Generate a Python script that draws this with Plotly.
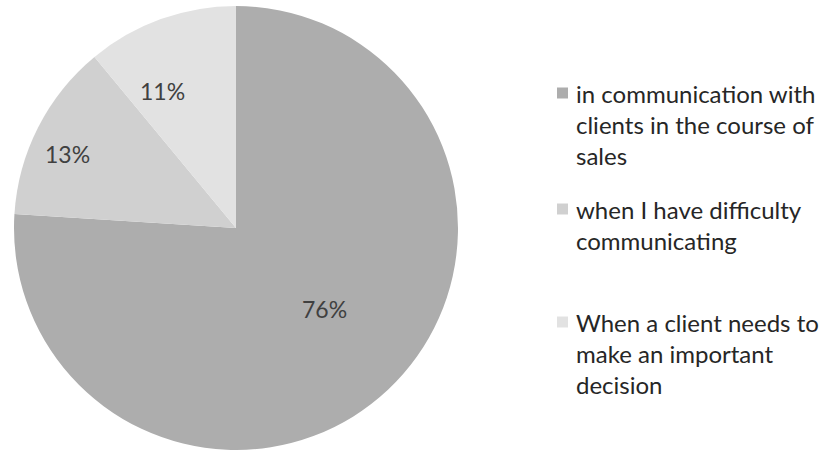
import math
import plotly.graph_objects as go

# Survey answers and their shares (percent)
categories = [
    "in communication with<br>clients in the course of<br>sales",
    "when I have difficulty<br>communicating",
    "When a client needs to<br>make an important<br>decision",
]
values = [76, 13, 11]
colors = ["#adadad", "#d0d0d0", "#e2e2e2"]

W, H = 827, 450
FONT = "Lato"
TEXT_COLOR = "#262626"

# Pie placement in pixels
CX, CY, R = 236, 228, 222
# Placement of each percentage label: fraction of the radius and
# angular shift (degrees) from the slice's middle angle
label_radius = [0.54, 0.83, 0.70]
label_shift = [-4.5, -3.3, -8.6]

fig = go.Figure(
    go.Pie(
        labels=categories,
        values=values,
        sort=False,
        direction="clockwise",
        rotation=0,
        marker=dict(colors=colors, line=dict(width=0)),
        textinfo="none",
        domain=dict(x=[(CX - R) / W, (CX + R) / W], y=[(H - CY - R) / H, (H - CY + R) / H]),
        hoverinfo="label+percent",
        showlegend=False,
    )
)

annotations = []
shapes = []

# Percentage labels placed around the middle angle of each slice
total = sum(values)
cum = 0
for v, frac, shift in zip(values, label_radius, label_shift):
    mid = (cum + v / 2) / total * 2 * math.pi + math.radians(shift)  # clockwise from 12 o'clock
    cum += v
    px = CX + frac * R * math.sin(mid)
    py = CY - frac * R * math.cos(mid)
    annotations.append(
        dict(
            text=f"{round(100 * v / total)}%", xref="paper", yref="paper",
            x=px / W, y=1 - py / H, xanchor="center", yanchor="middle",
            showarrow=False, font=dict(family=FONT, size=23, color="#404040"),
        )
    )

# Hand-built legend: a square swatch and wrapped text lines per entry
legend_first_line_y = [93, 209, 322]
line_gap = 31
for cat, col, y0 in zip(categories, colors, legend_first_line_y):
    shapes.append(
        dict(
            type="rect", xref="paper", yref="paper",
            x0=557 / W, x1=568 / W,
            y0=1 - (y0 + 5.5) / H, y1=1 - (y0 - 5.5) / H,
            fillcolor=col, line=dict(width=0),
        )
    )
    for i, line in enumerate(cat.split("<br>")):
        annotations.append(
            dict(
                text=line, xref="paper", yref="paper",
                x=574 / W, y=1 - (y0 + i * line_gap) / H,
                xanchor="left", yanchor="middle", showarrow=False,
                font=dict(family=FONT, size=24, color=TEXT_COLOR),
            )
        )

fig.update_layout(
    width=W, height=H,
    margin=dict(l=0, r=0, t=0, b=0),
    paper_bgcolor="white", plot_bgcolor="white",
    shapes=shapes, annotations=annotations,
)

fig.write_html("out.html")
